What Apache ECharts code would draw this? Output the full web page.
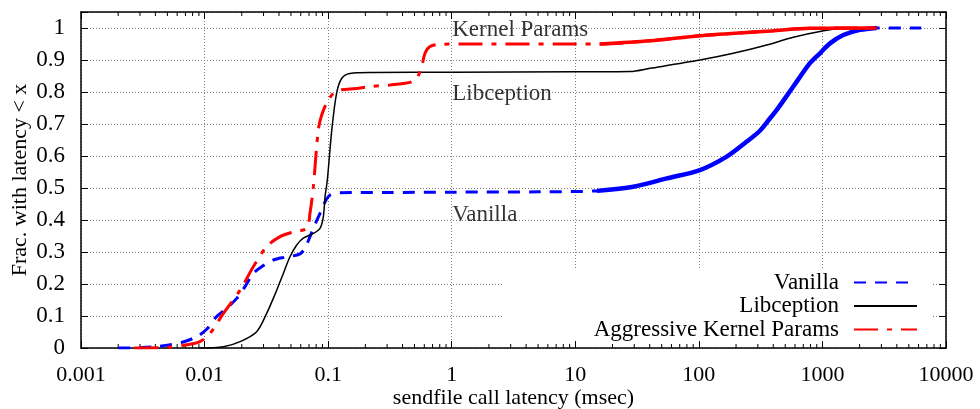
<!DOCTYPE html>
<html><head><meta charset="utf-8">
<script src="https://cdn.jsdelivr.net/npm/echarts@6/dist/echarts.min.js"></script>
<style>html,body{margin:0;padding:0;background:#fff}#c{width:980px;height:409px}</style>
</head><body><div id="c"></div>
<script>
// ---- data ----
const xTickLabels = ['0.001', '0.01', '0.1', '1', '10', '100', '1000', '10000'];
const yTickLabels = ['0', '0.1', '0.2', '0.3', '0.4', '0.5', '0.6', '0.7', '0.8', '0.9', '1'];
const seriesNames = ['Vanilla', 'Libception', 'Aggressive Kernel Params'];

const vanilla = [
  [0.002,0],[0.003,0.001],[0.004,0.004],[0.005,0.009],[0.0065,0.017],[0.0086,0.035],[0.0105,0.06],
  [0.0125,0.098],[0.0152,0.125],[0.0182,0.155],[0.0215,0.195],[0.0248,0.233],[0.03,0.258],[0.036,0.275],
  [0.045,0.284],[0.0592,0.294],[0.066,0.318],[0.0713,0.348],[0.078,0.385],[0.0859,0.421],[0.094,0.455],
  [0.1035,0.478],[0.125,0.485],[0.3,0.486],[1,0.487],[5,0.488],[15,0.491],[29.5,0.504],[55,0.53],
  [102,0.556],[168,0.598],[244,0.645],[312,0.679],[377,0.718],[427,0.744],[581,0.817],[792,0.89],
  [955,0.921],[1151,0.952],[1476,0.978],[2014,0.994],[2748,1.0],[6300,1.0]
];
const libception = [
  [0.009,0],[0.0142,0.004],[0.0194,0.02],[0.0264,0.051],[0.0318,0.108],[0.0384,0.181],[0.0434,0.233],
  [0.0491,0.285],[0.0557,0.322],[0.063,0.343],[0.0759,0.358],[0.0859,0.374],[0.0914,0.41],[0.0944,0.473],
  [0.0985,0.525],[0.107,0.681],[0.117,0.796],[0.129,0.843],[0.15,0.858],[0.232,0.861],[1,0.862],
  [10,0.863],[27.7,0.864],[40.3,0.874],[102,0.9],[190,0.921],[354,0.947],[581,0.971],[955,0.989],
  [1476,0.999],[2750,1.0]
];
const aggressive = [
  [0.0027,0],[0.005,0.002],[0.00717,0.01],[0.00918,0.02],[0.0111,0.046],[0.0142,0.108],[0.0194,0.181],
  [0.0248,0.254],[0.0318,0.317],[0.0408,0.348],[0.0522,0.363],[0.067,0.374],[0.0713,0.421],[0.0759,0.504],
  [0.0832,0.681],[0.0887,0.728],[0.1002,0.775],[0.117,0.803],[0.17,0.811],[0.218,0.817],[0.317,0.822],
  [0.459,0.83],[0.521,0.843],[0.571,0.879],[0.608,0.921],[0.667,0.942],[0.804,0.949],[1.41,0.95],
  [15.8,0.95],[40.3,0.96],[102,0.976],[354,0.99],[800,0.999],[2750,1.0]
];
const curveLabels = ['Kernel Params', 'Libception', 'Vanilla'];
const curveLabelX = [1, 1, 1];
const curveLabelY = [0.995, 0.793, 0.416];

// minor tick positions of the log axis (2..9 per decade)
const minorTickValues = [];
for (let e = -3; e <= 3; e++) for (let m = 2; m <= 9; m++) minorTickValues.push(m * Math.pow(10, e));

// ---- chart ----
const FONT = 'Liberation Serif';
const chart = echarts.init(document.getElementById('c'), null, {renderer: 'canvas'});
const axisLine = {show: true, onZero: false, lineStyle: {color: '#000', width: 1.5}};
const tick = {show: true, inside: true, length: 7, lineStyle: {color: '#000', width: 1}};
const grid = {show: true, lineStyle: {color: '#808080', width: 1, type: [1, 2]}};
const X0 = 0.001, X1 = 10000, Y0 = 0, Y1 = 1.05;
const SMOOTH = 0.3;

function xFmt(v) { const i = Math.round(Math.log10(v)) + 3; return xTickLabels[i] || ''; }
function yFmt(v) { const i = Math.round(v * 10); return (v > 1.001) ? '' : (yTickLabels[i] || ''); }

const option = {
  animation: false,
  backgroundColor: '#fff',
  grid: {left: 81, right: 34, top: 12, bottom: 61, containLabel: false, outerBoundsMode: 'none'},
  xAxis: [
    {type: 'log', logBase: 10, min: X0, max: X1, position: 'bottom',
     axisLine, axisTick: tick, splitLine: grid, minorTick: {show: false},
     axisLabel: {fontFamily: FONT, fontSize: 22, color: '#000', margin: 16, formatter: xFmt},
     name: 'sendfile call latency (msec)', nameLocation: 'middle', nameGap: 39, nameMoveOverlap: false,
     nameTextStyle: {fontFamily: FONT, fontSize: 22, color: '#000'}},
    {type: 'log', logBase: 10, min: X0, max: X1, position: 'top',
     axisLine, axisTick: tick, splitLine: {show: false}, axisLabel: {show: false}}
  ],
  yAxis: [
    {type: 'value', min: Y0, max: Y1, interval: 0.1, position: 'left',
     axisLine, axisTick: tick, splitLine: grid,
     axisLabel: {fontFamily: FONT, fontSize: 23, color: '#000', margin: 16, formatter: yFmt},
     name: 'Frac. with latency < x', nameLocation: 'middle', nameGap: 50, nameRotate: 90, nameMoveOverlap: false,
     nameTextStyle: {fontFamily: FONT, fontSize: 22, color: '#000'}},
    {type: 'value', min: Y0, max: Y1, interval: 0.1, position: 'right',
     axisLine, axisTick: tick, splitLine: {show: false}, axisLabel: {show: false}}
  ],
  graphic: [
    {type: 'rect', z: 1, silent: true, shape: {x: 502, y: 270, width: 429, height: 70}, style: {fill: '#fff'}}
  ],
  legend: {
    show: true, orient: 'vertical', right: 62, top: 271, align: 'right', padding: 0,
    itemWidth: 63, itemHeight: 14, itemGap: 0.5, selectedMode: false,
    data: seriesNames,
    itemStyle: {color: 'rgba(0,0,0,0)', borderColor: 'rgba(0,0,0,0)', borderWidth: 0},
    textStyle: {fontFamily: FONT, fontSize: 23, color: '#000', lineHeight: 23, padding: [0, 10, 0, 0]}
  },
  series: [
    {name: seriesNames[0], type: 'line', data: vanilla, showSymbol: false, symbol: 'none', z: 3, smooth: SMOOTH,
     lineStyle: {color: '#0000ff', width: 3, type: [12, 9]}, itemStyle: {color: '#0000ff'}},
    {name: 'vanilla-dense', type: 'line', data: vanilla.filter(p => p[0] >= 15 && p[0] <= 2748), showSymbol: false, symbol: 'none', z: 3, smooth: SMOOTH,
     lineStyle: {color: '#0000ff', width: 4.5}},
    {name: seriesNames[1], type: 'line', data: libception, showSymbol: false, symbol: 'none', z: 4, smooth: SMOOTH,
     lineStyle: {color: '#000', width: 1.5}, itemStyle: {color: '#000'}},
    {name: seriesNames[2], type: 'line', data: aggressive, showSymbol: false, symbol: 'none', z: 5, smooth: SMOOTH,
     lineStyle: {color: '#ff0000', width: 3, type: [24, 9, 5, 9]}, itemStyle: {color: '#ff0000'}},
    {name: 'aggressive-dense', type: 'line', data: aggressive.filter(p => p[0] >= 15.8), showSymbol: false, symbol: 'none', z: 5, smooth: SMOOTH,
     lineStyle: {color: '#ff0000', width: 3.5}},
    {name: 'curve-labels', type: 'scatter', z: 6, symbolSize: 1, itemStyle: {color: 'rgba(0,0,0,0)'},
     data: curveLabels.map((n, i) => ({name: n, value: [curveLabelX[i], curveLabelY[i]]})),
     label: {show: true, position: 'right', distance: 0, formatter: p => p.name,
             fontFamily: FONT, fontSize: 23, color: '#000'}},
    {name: 'minor-ticks', type: 'custom', z: 2, silent: true, clip: false,
     data: minorTickValues.map(v => [v, 0]),
     renderItem: function (params, api) {
       const v = api.value(0);
       const b = api.coord([v, Y0]);
       const t = api.coord([v, Y1]);
       const st = {stroke: '#000', lineWidth: 1};
       return {type: 'group', children: [
         {type: 'line', shape: {x1: b[0], y1: b[1], x2: b[0], y2: b[1] - 4}, style: st},
         {type: 'line', shape: {x1: t[0], y1: t[1], x2: t[0], y2: t[1] + 4}, style: st}
       ]};
     }}
  ]
};
chart.setOption(option);
</script>
</body></html>
